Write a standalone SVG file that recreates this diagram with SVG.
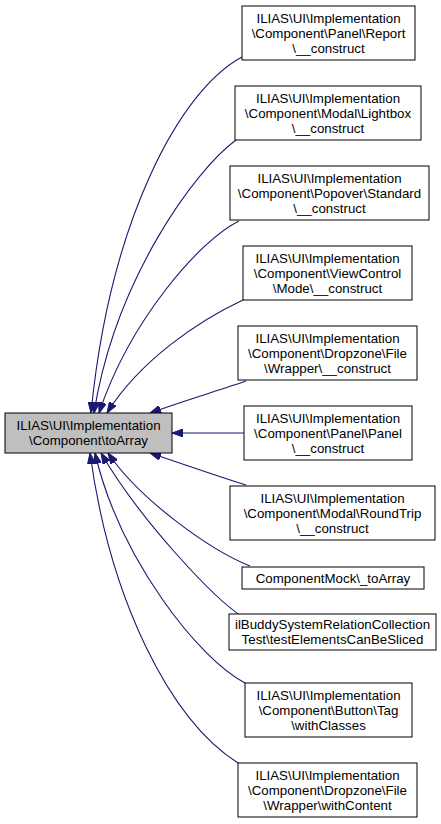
<svg xmlns="http://www.w3.org/2000/svg" width="441" height="824" viewBox="0 0 441 824">
<defs>
<style>
.n rect{fill:#ffffff;stroke:#000000;stroke-width:1}
.n.main rect{fill:#bfbfbf}
.n text{font-family:"Liberation Sans",Arial,sans-serif;font-size:13.3px;fill:#000000;text-anchor:middle}
.e path{fill:none;stroke:#191970;stroke-width:1.1}
</style>
<marker id="ah" markerUnits="userSpaceOnUse" markerWidth="12" markerHeight="8" refX="11" refY="4" orient="auto">
<path d="M0,0 L11,4 L0,8 z" fill="#191970" stroke="#191970" stroke-width="1"/>
</marker>
</defs>
<rect width="441" height="824" fill="#ffffff"/>
<g class="e" id="edges">
<path marker-end="url(#ah)" d="M242,57 C180,90 110,220 91,413"/>
<path marker-end="url(#ah)" d="M236,140 C195,170 115,280 94,413"/>
<path marker-end="url(#ah)" d="M239,221 C200,240 130,320 99,413"/>
<path marker-end="url(#ah)" d="M243,300 C200,320 140,360 107,413"/>
<path marker-end="url(#ah)" d="M246,381 C220,390 180,402 150,413"/>
<path marker-end="url(#ah)" d="M244,433 L172,433"/>
<path marker-end="url(#ah)" d="M246,485 C220,477 180,463 150,453"/>
<path marker-end="url(#ah)" d="M250,566 C210,550 140,500 108,453"/>
<path marker-end="url(#ah)" d="M243,617 C215,600 140,520 101,453"/>
<path marker-end="url(#ah)" d="M245,683 C200,660 120,560 95,453"/>
<path marker-end="url(#ah)" d="M238,763 C170,720 110,600 90,453"/>
</g>
<g class="n main" id="node-main">
<rect x="5" y="413" width="167" height="40"/>
<text x="88.5" y="430">ILIAS\UI\Implementation</text>
<text x="88.5" y="445">\Component\toArray</text>
</g>
<g class="n" id="node-report">
<rect x="242" y="6" width="173" height="54"/>
<text x="328.5" y="22.5">ILIAS\UI\Implementation</text>
<text x="328.5" y="37.5">\Component\Panel\Report</text>
<text x="328.5" y="52.5">\__construct</text>
</g>
<g class="n" id="node-lightbox">
<rect x="235" y="86" width="186" height="54"/>
<text x="328" y="102.5">ILIAS\UI\Implementation</text>
<text x="328" y="117.5">\Component\Modal\Lightbox</text>
<text x="328" y="132.5">\__construct</text>
</g>
<g class="n" id="node-popover">
<rect x="230" y="166" width="199" height="54"/>
<text x="329.5" y="182.5">ILIAS\UI\Implementation</text>
<text x="329.5" y="197.5">\Component\Popover\Standard</text>
<text x="329.5" y="212.5">\__construct</text>
</g>
<g class="n" id="node-viewcontrol">
<rect x="243" y="246" width="169" height="54"/>
<text x="327.5" y="262.5">ILIAS\UI\Implementation</text>
<text x="327.5" y="277.5">\Component\ViewControl</text>
<text x="327.5" y="292.5">\Mode\__construct</text>
</g>
<g class="n" id="node-dropzone-construct">
<rect x="238" y="326" width="179" height="54"/>
<text x="327.5" y="342.5">ILIAS\UI\Implementation</text>
<text x="327.5" y="357.5">\Component\Dropzone\File</text>
<text x="327.5" y="372.5">\Wrapper\__construct</text>
</g>
<g class="n" id="node-panel">
<rect x="244" y="406" width="168" height="54"/>
<text x="328" y="422.5">ILIAS\UI\Implementation</text>
<text x="328" y="437.5">\Component\Panel\Panel</text>
<text x="328" y="452.5">\__construct</text>
</g>
<g class="n" id="node-roundtrip">
<rect x="230" y="486" width="205" height="54"/>
<text x="332.5" y="502.5">ILIAS\UI\Implementation</text>
<text x="332.5" y="517.5">\Component\Modal\RoundTrip</text>
<text x="332.5" y="532.5">\__construct</text>
</g>
<g class="n" id="node-componentmock">
<rect x="242" y="567" width="182" height="22"/>
<text x="333" y="582.5">ComponentMock\_toArray</text>
</g>
<g class="n" id="node-ilbuddy">
<rect x="229" y="614" width="207" height="36"/>
<text x="332.5" y="629">ilBuddySystemRelationCollection</text>
<text x="332.5" y="644">Test\testElementsCanBeSliced</text>
</g>
<g class="n" id="node-buttontag">
<rect x="245" y="683" width="167" height="54"/>
<text x="328.5" y="699.5">ILIAS\UI\Implementation</text>
<text x="328.5" y="714.5">\Component\Button\Tag</text>
<text x="328.5" y="729.5">\withClasses</text>
</g>
<g class="n" id="node-withcontent">
<rect x="238" y="763" width="179" height="54"/>
<text x="327.5" y="779.5">ILIAS\UI\Implementation</text>
<text x="327.5" y="794.5">\Component\Dropzone\File</text>
<text x="327.5" y="809.5">\Wrapper\withContent</text>
</g>
</svg>
